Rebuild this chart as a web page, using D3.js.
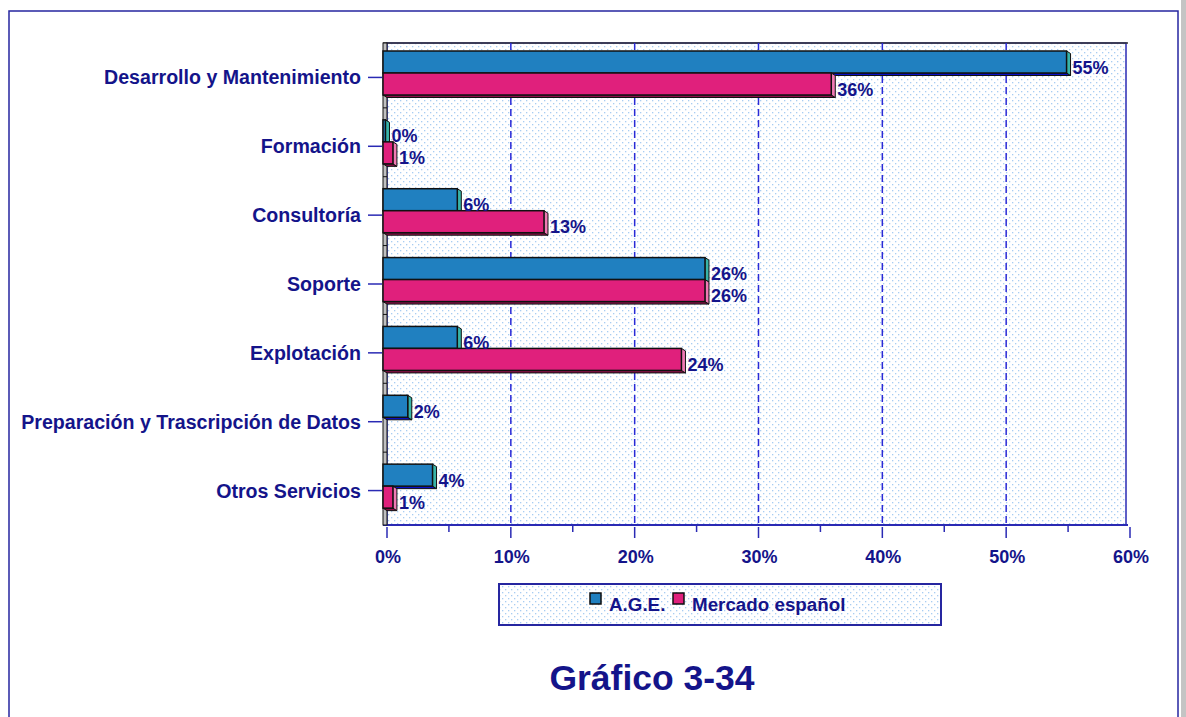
<!DOCTYPE html>
<html lang="es">
<head>
<meta charset="UTF-8" />
<script src="https://d3js.org/d3.v7.min.js"></script>
<title>Gráfico 3-34</title>
<style>
  body { margin: 0; background: #fff; overflow: hidden; }
  text { font-family: "Liberation Sans", Arial, sans-serif; }
</style>
</head>
<body>
<script>
// data
const categories = [
  "Desarrollo y Mantenimiento",
  "Formación",
  "Consultoría",
  "Soporte",
  "Explotación",
  "Preparación y Trascripción de Datos",
  "Otros Servicios"
];
const ageValues = [55.2, 0.2, 6.0, 26.0, 6.0, 2.0, 4.0];
const mercadoValues = [36.2, 0.8, 13.0, 26.0, 24.1, 0, 0.8];
const seriesNames = ["A.G.E.", "Mercado español"];
const xTicks = [0, 10, 20, 30, 40, 50, 60];
const xMinorTicks = [5, 15, 25, 35, 45, 55];

const navy = "#14148a";
const lineBlue = "#2a2ab4";
const fills = ["#2080c0", "#e0207c"];
const sides = ["#38b4a8", "#f07ab4"];
const bottoms = ["#0a10c8", "#8a1048"];

const W = 1186, H = 717;
const svg = d3.select("body").append("svg").attr("width", W).attr("height", H);

// dotted background pattern
const defs = svg.append("defs");
const pat = defs.append("pattern").attr("id", "dots")
  .attr("patternUnits", "userSpaceOnUse").attr("width", 6).attr("height", 6);
pat.append("rect").attr("width", 6).attr("height", 6).attr("fill", "#fff");
pat.append("rect").attr("x", 1).attr("y", 1).attr("width", 1.3).attr("height", 1.3).attr("fill", "#a8cdf2");
pat.append("rect").attr("x", 4).attr("y", 4).attr("width", 1.3).attr("height", 1.3).attr("fill", "#a8cdf2");

// outer frame
svg.append("rect").attr("x", 9).attr("y", 11).attr("width", 1169).attr("height", 720)
  .attr("fill", "none").attr("stroke", "#2626a0").attr("stroke-width", 1.5);
svg.append("rect").attr("x", 1181).attr("y", 0).attr("width", 5).attr("height", H).attr("fill", "#c4c4c4");

const plotTop = 43, plotBottom = 525, depth = 4;
const xb = d3.scaleLinear().domain([0, 60]).range([387, 1130]); // back plane
const x = v => xb(v) - depth;                                    // front of bars
const y = d3.scaleBand().domain(categories).range([plotTop, plotBottom]);
const ySub = d3.scaleBand().domain(seriesNames).range([8, 52]);

// back panel
svg.append("rect").attr("x", 387).attr("y", plotTop).attr("width", 1126 - 387).attr("height", plotBottom - plotTop)
  .attr("fill", "url(#dots)").attr("stroke", lineBlue).attr("stroke-width", 1.5);
svg.append("line").attr("x1", 383).attr("x2", 1128).attr("y1", plotTop).attr("y2", plotTop)
  .attr("stroke", "#333").attr("stroke-width", 1.5);
svg.append("line").attr("x1", 383).attr("x2", 1128).attr("y1", plotBottom).attr("y2", plotBottom)
  .attr("stroke", lineBlue).attr("stroke-width", 2);

// grid lines
svg.append("g").selectAll("line").data(xTicks.filter(t => t > 0 && t < 60)).join("line")
  .attr("x1", d => xb(d)).attr("x2", d => xb(d)).attr("y1", plotTop).attr("y2", plotBottom)
  .attr("stroke", "#2a2ad6").attr("stroke-width", 1.5).attr("stroke-dasharray", "7,4");

// left wall
svg.append("rect").attr("x", 383).attr("y", plotTop).attr("width", 4).attr("height", plotBottom - plotTop)
  .attr("fill", "#c0c0c0").attr("stroke", "#111").attr("stroke-width", 1);
svg.append("g").selectAll("line").data(categories.slice(1)).join("line")
  .attr("x1", 383).attr("x2", 387).attr("y1", d => y(d) - 4).attr("y2", d => y(d) - 4)
  .attr("stroke", "#111").attr("stroke-width", 1);

// bottom axis
const ax = svg.append("g");
ax.selectAll("line.maj").data(xTicks).join("line").attr("class", "maj")
  .attr("x1", d => xb(d)).attr("x2", d => xb(d)).attr("y1", 527).attr("y2", 538)
  .attr("stroke", lineBlue).attr("stroke-width", 1.5);
ax.selectAll("line.min").data(xMinorTicks).join("line").attr("class", "min")
  .attr("x1", d => xb(d)).attr("x2", d => xb(d)).attr("y1", 525).attr("y2", 532)
  .attr("stroke", lineBlue).attr("stroke-width", 1.5);
ax.selectAll("text").data(xTicks).join("text")
  .attr("x", d => xb(d) + 1).attr("y", 563).attr("text-anchor", "middle")
  .attr("font-size", 18).attr("font-weight", "bold").attr("fill", navy)
  .text(d => d + "%");

// category axis
const cy = d => y(d) + y.bandwidth() / 2;
const cat = svg.append("g");
cat.selectAll("line").data(categories).join("line")
  .attr("x1", 368).attr("x2", 382).attr("y1", cy).attr("y2", cy)
  .attr("stroke", lineBlue).attr("stroke-width", 1.5);
cat.selectAll("text").data(categories).join("text")
  .attr("x", 361).attr("y", d => cy(d) + 7).attr("text-anchor", "end")
  .attr("font-size", 19.6).attr("font-weight", "bold").attr("fill", navy)
  .text(d => d);

// bars
const rows = [];
[ageValues, mercadoValues].forEach((vals, s) => {
  vals.forEach((v, i) => rows.push({ cat: categories[i], s, v }));
});
const bars = svg.append("g");
rows.forEach(r => {
  if (r.v <= 0) return;
  const x0 = x(0), x1 = x(r.v);
  const y0 = y(r.cat) + ySub(seriesNames[r.s]), h = ySub.bandwidth();
  const dy = 2.5;
  const g = bars.append("g");
  g.append("polygon")
    .attr("points", [[x0, y0 + h], [x1, y0 + h], [x1 + depth, y0 + h + dy], [x0 + depth, y0 + h + dy]].join(" "))
    .attr("fill", bottoms[r.s]).attr("stroke", "#111").attr("stroke-width", 1);
  g.append("polygon")
    .attr("points", [[x1, y0], [x1 + depth, y0 + dy], [x1 + depth, y0 + h + dy], [x1, y0 + h]].join(" "))
    .attr("fill", sides[r.s]).attr("stroke", "#111").attr("stroke-width", 1);
  g.append("rect").attr("x", x0).attr("y", y0).attr("width", Math.max(0, x1 - x0)).attr("height", h)
    .attr("fill", fills[r.s]).attr("stroke", "#111").attr("stroke-width", 1.5);
});
// value labels
svg.append("g").selectAll("text").data(rows.filter(r => r.v > 0)).join("text")
  .attr("x", r => x(r.v) + depth + 2)
  .attr("y", r => y(r.cat) + ySub(seriesNames[r.s]) + ySub.bandwidth() + 0.5)
  .attr("font-size", 18).attr("fill", navy).attr("font-weight", "bold")
  .text(r => Math.round(r.v) + "%");

// legend
const lg = svg.append("g");
lg.append("rect").attr("x", 499).attr("y", 584).attr("width", 442).attr("height", 41)
  .attr("fill", "url(#dots)").attr("stroke", "#2626a0").attr("stroke-width", 2);
const legendX = [590, 673];
seriesNames.forEach((n, s) => {
  lg.append("rect").attr("x", legendX[s]).attr("y", 593).attr("width", 11).attr("height", 11)
    .attr("fill", fills[s]).attr("stroke", "#111").attr("stroke-width", 1.5);
  lg.append("text").attr("x", legendX[s] + 19).attr("y", 611)
    .attr("font-size", 18.8).attr("font-weight", "bold").attr("fill", navy).text(n);
});

// title
svg.append("text").attr("x", 652).attr("y", 690).attr("text-anchor", "middle")
  .attr("font-size", 35.5).attr("font-weight", "bold").attr("fill", navy)
  .text("Gráfico 3-34");
</script>
</body>
</html>
